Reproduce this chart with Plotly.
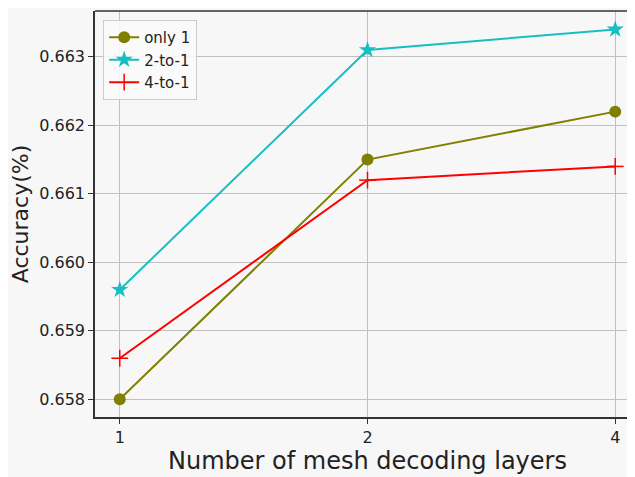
import plotly.graph_objects as go

x_labels = ["1", "2", "4"]
only1 = [0.6580, 0.6615, 0.6622]
two_to_one = [0.6596, 0.6631, 0.6634]
four_to_one = [0.6586, 0.6612, 0.6614]

bg = "#f7f7f7"
fig = go.Figure()
xs = [0, 1, 2]
fig.add_trace(go.Scatter(x=xs, y=only1, name="only 1", mode="lines+markers",
                         line=dict(color="#808000", width=2),
                         marker=dict(symbol="circle", size=12, color="#808000")))
fig.add_trace(go.Scatter(x=xs, y=two_to_one, name="2-to-1", mode="lines+markers",
                         line=dict(color="#17bfc4", width=2),
                         marker=dict(symbol="star", size=13, color="#17bfc4")))
fig.add_trace(go.Scatter(x=xs, y=four_to_one, name="4-to-1", mode="lines+markers",
                         line=dict(color="#ff0000", width=2),
                         marker=dict(symbol="line-ns", size=12, line=dict(color="#ff0000", width=1.5))))
fig.add_trace(go.Scatter(x=xs, y=four_to_one, showlegend=False, mode="markers", hoverinfo="skip",
                         marker=dict(symbol="line-ew", size=12, line=dict(color="#ff0000", width=1.5))))

fig.update_layout(
    width=635, height=477,
    margin=dict(l=87, r=3, t=3, b=68),
    paper_bgcolor=bg, plot_bgcolor=bg,
    font=dict(family="DejaVu Sans", color="#222", size=16),
    legend=dict(x=0.015, y=0.978, xanchor="left", yanchor="top",
                bgcolor="rgba(250,250,250,0.9)", bordercolor="#cccccc", borderwidth=1,
                font=dict(size=15), itemwidth=30, tracegroupgap=0),
    xaxis=dict(range=[-0.1, 2.1], tickmode="array", tickvals=xs, ticktext=x_labels,
               showgrid=True, gridcolor="#c0c0c0", gridwidth=1,
               showline=True, linecolor="#333", linewidth=1.5, mirror=False,
               ticks="outside", ticklen=5, tickcolor="#333", zeroline=False,
               tickfont=dict(size=16),
               title=dict(text="Number of mesh decoding layers", font=dict(size=24), standoff=6)),
    yaxis=dict(range=[0.657742, 0.663669], tickvals=[0.658, 0.659, 0.660, 0.661, 0.662, 0.663],
               ticktext=["0.658", "0.659", "0.660", "0.661", "0.662", "0.663"],
               showgrid=True, gridcolor="#c0c0c0", gridwidth=1,
               showline=True, linecolor="#333", linewidth=1.5,
               ticks="outside", ticklen=5, tickcolor="#333", zeroline=False,
               tickfont=dict(size=16),
               title=dict(text="Accuracy(%)", font=dict(size=22), standoff=8)),
)
fig.add_shape(type="line", xref="paper", yref="paper", x0=0, x1=1, y0=1, y1=1,
              line=dict(color="#333", width=1.5))
fig.write_html("out.html")
